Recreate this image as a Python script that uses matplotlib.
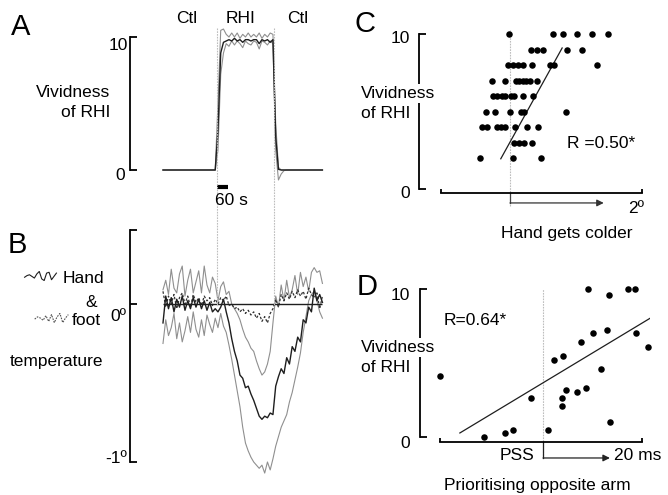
import numpy as np
import matplotlib
matplotlib.use("Agg")
import matplotlib.pyplot as plt
from matplotlib.lines import Line2D
from matplotlib.transforms import blended_transform_factory

plt.rcParams['font.family'] = ['Liberation Sans', 'DejaVu Sans']
plt.rcParams['font.size'] = 12.5

# ---- data -------------------------------------------------------------
# time samples (s) for panels A and B, 15 s apart
t = np.arange(0, 871, 15)
rhi_on, rhi_off = 295, 605

# A: vividness of RHI over time (mean and spread)
vivid_mean = [0, 0, 0, 0, 0, 0, 0, 0, 0, 0,
              0, 0, 0, 0, 0, 0, 0, 0, 0, 0,
              3.0, 8.8, 9.6, 9.7, 9.8, 9.7, 9.9, 9.7, 9.8, 9.6,
              9.8, 9.8, 9.7, 9.8, 9.8, 9.5, 9.8, 9.7, 9.8, 9.6,
              9.8, 2.5, 0.05, 0, 0, 0, 0, 0, 0, 0,
              0, 0, 0, 0, 0, 0, 0, 0, 0]
vivid_upper = [0, 0, 0, 0, 0, 0, 0, 0, 0, 0,
               0, 0, 0, 0, 0, 0, 0, 0, 0, 0,
               5.0, 10.5, 10.6, 10.2, 10.0, 10.3, 10.0, 10.3, 9.9, 10.2,
               10.0, 10.3, 10.0, 10.2, 10.0, 10.3, 9.9, 10.2, 10.0, 10.3,
               10.2, 3.5, 0.2, 0, 0, 0, 0, 0, 0, 0,
               0, 0, 0, 0, 0, 0, 0, 0, 0]
vivid_lower = [0, 0, 0, 0, 0, 0, 0, 0, 0, 0,
               0, 0, 0, 0, 0, 0, 0, 0, 0, 0,
               1.5, 7.2, 8.8, 9.5, 9.3, 9.7, 9.4, 9.7, 9.5, 9.2,
               9.7, 9.5, 9.4, 9.7, 9.6, 9.1, 9.7, 9.6, 9.4, 9.7,
               9.5, 1.5, -0.75, -0.3, -0.05, 0, 0, 0, 0, 0,
               0, 0, 0, 0, 0, 0, 0, 0, 0]

# B: hand temperature change (mean, upper, lower) and foot temperature
hand_mean = [-0.12, 0.05, -0.03, 0.04, -0.05, 0.03, -0.02, 0.05, -0.04, 0.02,
             -0.03, 0.04, -0.02, 0.03, -0.03, 0.02, -0.04, 0.01, -0.05, -0.03,
             -0.05, -0.02, 0.03, -0.05, -0.12, -0.22, -0.30, -0.36, -0.45, -0.47,
             -0.53, -0.52, -0.57, -0.61, -0.66, -0.71, -0.73, -0.71, -0.72, -0.69,
             -0.70, -0.52, -0.46, -0.41, -0.44, -0.34, -0.38, -0.27, -0.30, -0.21,
             -0.24, -0.10, -0.12, -0.02, -0.05, 0.10, 0.02, 0.06, 0.01]
hand_upper = [0.09, 0.15, 0.06, 0.22, 0.10, 0.07, 0.19, 0.24, 0.05, 0.15,
              0.22, 0.07, 0.14, 0.21, 0.07, 0.24, 0.12, 0.07, 0.17, 0.13,
              0.02, 0.11, 0.14, 0.06, 0.08, 0.00, -0.03, -0.06, -0.10, -0.16,
              -0.21, -0.24, -0.28, -0.30, -0.36, -0.41, -0.45, -0.43, -0.38, -0.30,
              -0.12, 0.05, -0.02, 0.12, 0.02, 0.15, 0.04, 0.09, 0.18, 0.06,
              0.20, 0.11, 0.17, 0.08, 0.20, 0.23, 0.20, 0.21, 0.13]
hand_lower = [-0.25, -0.10, -0.20, -0.15, -0.06, -0.22, -0.12, -0.24, -0.17, -0.08,
              -0.18, -0.05, -0.16, -0.21, -0.10, -0.20, -0.07, -0.13, -0.18, -0.09,
              -0.15, -0.06, -0.14, -0.18, -0.26, -0.35, -0.45, -0.55, -0.65, -0.78,
              -0.88, -0.93, -0.97, -1.00, -1.02, -1.04, -1.02, -1.07, -1.00, -1.05,
              -0.98, -0.90, -0.84, -0.78, -0.74, -0.70, -0.62, -0.56, -0.48, -0.40,
              -0.31, -0.18, -0.08, 0.02, 0.06, 0.08, 0.02, -0.05, -0.09]
foot_mean = [0.08, -0.02, 0.05, 0.00, 0.06, -0.03, 0.04, 0.07, 0.00, 0.05,
             -0.02, 0.06, 0.01, 0.04, -0.01, 0.05, 0.02, 0.04, -0.01, 0.03,
             0.00, 0.04, 0.02, 0.05, -0.01, 0.00, -0.03, -0.02, -0.05, -0.03,
             -0.06, -0.04, -0.07, -0.05, -0.09, -0.06, -0.11, -0.08, -0.12, -0.06,
             -0.03, 0.03, -0.02, 0.06, 0.02, 0.07, 0.03, 0.08, 0.04, 0.09,
             0.05, 0.08, 0.03, 0.10, 0.06, 0.04, 0.07, -0.03, 0.05]

# legend squiggles
hand_glyph = [0.0, 0.2, 0.3, 0.1, -0.1, 0.4, 0.7, -0.2, -0.4, 0.5, 0.6, -0.3, 0.1, 0.5]
foot_glyph = [0.0, 0.2, 0.1, -0.1, 0.3, -0.2, 0.4, -0.3, 0.2, 0.5, -0.3, 0.1, 0.4]

# C: hand cooling (deg) vs vividness
c_cold = [-0.02, 0.65, 0.80, 1.02, 1.24, 1.48,
          0.32, 0.41, 0.50, 0.86, 1.09,
          -0.03, 0.04, 0.12, 0.20, 0.33, 0.61, 0.67, 1.32,
          -0.28, -0.08, 0.09, 0.14, 0.19, 0.24, 0.30, 0.41,
          -0.26, -0.20, -0.12, -0.08, 0.02, 0.06, 0.20, 0.35,
          -0.36, -0.23, 0.00, 0.17, 0.21, 0.85,
          -0.42, -0.35, -0.20, -0.14, -0.08, 0.08, 0.26, 0.42,
          0.06, 0.13, 0.21, 0.33,
          -0.45, 0.05, 0.47]
c_vivid = [10] * 6 + [9] * 5 + [8] * 8 + [7] * 8 + [6] * 8 + [5] * 6 + [4] * 8 + [3] * 4 + [2] * 3
c_fit_x = [-0.14, 0.79]
c_fit_y = [1.95, 9.1]

# D: PSS shift (ms) vs vividness
d_pss = [-20.9, -11.9, -7.6, -6.1, -2.4, 1.1, 2.3, 4.1, 3.8, 3.8, 4.6, 6.9,
         7.6, 8.6, 9.1, 10.0, 11.7, 12.9, 13.3, 13.5, 17.1, 18.5, 18.8, 21.2]
d_vivid = [4.1, 0.0, 0.3, 0.5, 2.6, 0.45, 5.2, 5.45, 2.6, 2.1, 3.2, 3.05,
           6.45, 3.3, 10.0, 7.0, 4.6, 7.25, 9.6, 1.0, 10.0, 10.0, 7.0, 6.1]
d_fit_x = [-16.8, 22.0]
d_fit_y = [0.27, 8.1]

# ---- layout helpers (pixel -> figure) -------------------------------------
W, H = 668, 495
def box(l, top, r, b):
    return [l / W, 1 - b / H, (r - l) / W, (b - top) / H]
def fx(px):
    return px / W
def fy(py):
    return 1 - py / H

gray = '#8f8f8f'
dark = '#1e1e1e'
guide = '#bdbdbd'

fig = plt.figure(figsize=(6.68, 4.95), dpi=100)

def bracket(ax, lo, hi):
    for s in ['top', 'right', 'bottom']:
        ax.spines[s].set_visible(False)
    ax.spines['left'].set_bounds(lo, hi)
    ax.spines['left'].set_linewidth(1.3)
    ax.tick_params(axis='y', direction='in', length=5, width=1.3, labelleft=False)
    ax.set_xticks([])
    ax.patch.set_visible(False)

# ---- A ----
axA = fig.add_axes(box(130, 37, 325, 170))
axA.set_xlim(-180, 884)
axA.set_ylim(0, 10)
axA.plot(t, vivid_upper, color=gray, lw=0.8, clip_on=False)
axA.plot(t, vivid_lower, color=gray, lw=0.8, clip_on=False)
axA.plot(t, vivid_mean, color=dark, lw=1.0, clip_on=False)
bracket(axA, 0, 10)
axA.set_yticks([0, 10])
axA.plot([rhi_on, rhi_on + 60], [-1.28, -1.28], color='black', lw=3,
         solid_capstyle='butt', clip_on=False)

# ---- B ----
axB = fig.add_axes(box(130, 230, 325, 462))
axB.set_xlim(-180, 884)
axB.set_ylim(-1, 0.468)
axB.plot(t, hand_upper, color=gray, lw=0.8, clip_on=False)
axB.plot(t, hand_lower, color=gray, lw=0.8, clip_on=False)
axB.plot(t, foot_mean, color='#333333', lw=0.9, ls=(0, (2, 1.5)), clip_on=False)
axB.plot(t, hand_mean, color=dark, lw=1.0, clip_on=False)
axB.hlines(0, t[0], t[-1], color=dark, lw=1.0)
bracket(axB, -1, 0.468)
axB.set_yticks([-1, 0, 0.468])

# RHI onset/offset guides across A and B
trans = blended_transform_factory(axA.transData, fig.transFigure)
for xv in [rhi_on, rhi_off]:
    fig.add_artist(Line2D([xv, xv], [fy(28), fy(306)], transform=trans,
                          color=guide, lw=0.8, ls=(0, (1.5, 1))))

# legend squiggles
axg = fig.add_axes(box(23, 271, 58, 281))
axg.plot(hand_glyph, color=dark, lw=0.8)
axg.axis('off')
axg2 = fig.add_axes(box(33, 313, 70, 323))
axg2.plot(foot_glyph, color='#555555', lw=0.8, ls=(0, (1.5, 1)))
axg2.axis('off')

# ---- C ----
axC = fig.add_axes(box(419, 30, 650, 193))
axC.set_xlim(-1.379, 2.121)
axC.set_ylim(-0.258, 10.26)
for s in ['top', 'right']:
    axC.spines[s].set_visible(False)
axC.spines['left'].set_bounds(0, 10)
axC.spines['bottom'].set_bounds(-1.045, 2)
for s in ['left', 'bottom']:
    axC.spines[s].set_linewidth(1.3)
axC.set_yticks([0, 10])
axC.set_xticks([-1.045, 2])
axC.tick_params(axis='y', direction='in', length=5, width=1.3, labelleft=False)
axC.tick_params(axis='x', direction='in', length=3, width=1.3, labelbottom=False)
axC.patch.set_visible(False)
axC.plot([0, 0], [-1.10, 10.26], color=guide, lw=0.8, ls=(0, (1.5, 1)), clip_on=False)
axC.plot([0, 0], [-0.258, -0.9], color='#444444', lw=0.9, clip_on=False)
axC.annotate('', xy=(1.42, -0.9), xytext=(0, -0.9), annotation_clip=False,
             arrowprops=dict(arrowstyle='-|>', color='#333333', lw=0.9,
                             mutation_scale=10, shrinkA=0, shrinkB=0))
axC.scatter(c_cold, c_vivid, s=22, color='black', linewidths=0, zorder=3, clip_on=False)
axC.plot(c_fit_x, c_fit_y, color=dark, lw=0.9)

# ---- D ----
axD = fig.add_axes(box(420, 285, 650, 442))
axD.set_xlim(-24.85, 21.6)
axD.set_ylim(-0.34, 10.27)
for s in ['top', 'right']:
    axD.spines[s].set_visible(False)
axD.spines['left'].set_bounds(0, 10)
axD.spines['bottom'].set_bounds(-20.8, 20)
for s in ['left', 'bottom']:
    axD.spines[s].set_linewidth(1.3)
axD.set_yticks([0, 10])
axD.set_xticks([-20.8, 20])
axD.tick_params(axis='y', direction='in', length=5, width=1.3, labelleft=False)
axD.tick_params(axis='x', direction='in', length=3, width=1.3, labelbottom=False)
axD.patch.set_visible(False)
axD.plot([0, 0], [-1.42, 10], color=guide, lw=0.8, ls=(0, (1.5, 1)), clip_on=False)
axD.plot([0, 0], [-0.34, -1.42], color='#222222', lw=0.9, clip_on=False)
axD.annotate('', xy=(13.5, -1.42), xytext=(0, -1.42), annotation_clip=False,
             arrowprops=dict(arrowstyle='-|>', color='#222222', lw=0.9,
                             mutation_scale=10, shrinkA=0, shrinkB=0))
axD.scatter(d_pss, d_vivid, s=22, color='black', linewidths=0, zorder=3, clip_on=False)
axD.plot(d_fit_x, d_fit_y, color=dark, lw=0.9)

# ---- texts ----
def ftext(px, py, s, ha='left', size=12.5, **kw):
    fig.text(fx(px), fy(py), s, ha=ha, va='baseline', fontsize=size, **kw)

ftext(11, 35, 'A', size=21)
ftext(8, 253, 'B', size=21)
ftext(355, 32, 'C', size=21)
ftext(357, 295, 'D', size=21)

ftext(187, 23, 'Ctl', ha='center')
ftext(241, 23, 'RHI', ha='center')
ftext(298, 23, 'Ctl', ha='center')
ftext(110, 97, 'Vividness', ha='right')
ftext(110, 117, 'of RHI', ha='right')
ftext(128, 50, '10', ha='right')
ftext(125, 180, '0', ha='right')
ftext(215, 205, '60 s')

ftext(63, 283, 'Hand')
ftext(97, 307, '&', ha='right')
ftext(72, 325, 'foot')
ftext(10, 366, 'temperature')
ftext(126, 321, '0º', ha='right')
ftext(127, 463, '-1º', ha='right')

wbox = dict(facecolor='white', edgecolor='none', pad=1.5)
ftext(361, 98, 'Vividness', bbox=wbox, zorder=5)
ftext(361, 118, 'of RHI', bbox=wbox, zorder=5)
ftext(410, 43, '10', ha='right')
ftext(410, 198, '0', ha='right')
ftext(567, 148, 'R =0.50*')
ftext(636, 213, '2º', ha='center')
ftext(567, 238, 'Hand gets colder', ha='center')

ftext(361, 352, 'Vividness', bbox=wbox, zorder=5)
ftext(361, 372, 'of RHI', bbox=wbox, zorder=5)
ftext(410, 300, '10', ha='right')
ftext(410, 448, '0', ha='right')
ftext(444, 325, 'R=0.64*')
ftext(534, 460, 'PSS', ha='right')
ftext(614, 460, '20 ms')
ftext(537, 490, 'Prioritising opposite arm', ha='center')

fig.savefig('out.png', dpi=100)
